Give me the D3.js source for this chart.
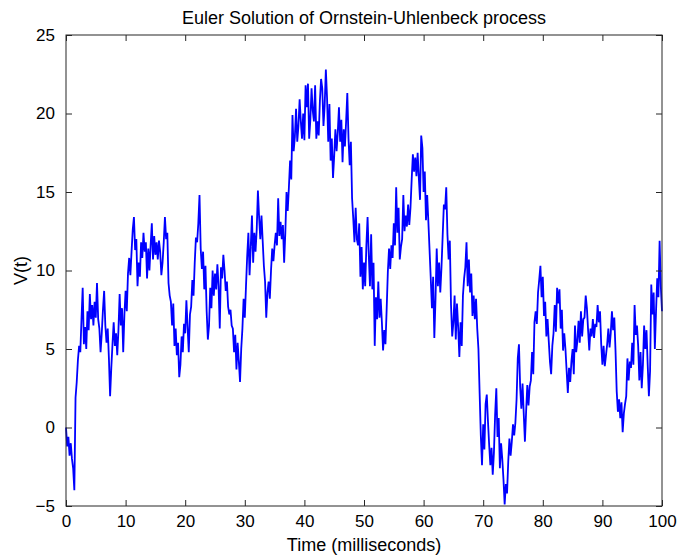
<!DOCTYPE html>
<html>
<head>
<meta charset="utf-8">
<script src="https://cdn.jsdelivr.net/npm/d3@7"></script>
<style>
  body { margin: 0; background: #fff; }
  svg text { font-family: "Liberation Sans", Arial, sans-serif; fill: #000; }
</style>
</head>
<body>
<div id="chart"></div>
<script>
// Euler solution of an Ornstein-Uhlenbeck process
// one row per millisecond, 5 samples per row (dt = 0.2 ms)
const dt = 0.2
const vRows = [
  [0.0, -1.2, -0.6, -1.8, -1.0],   // 0
  [-2.0, -2.6, -4.0, 1.9, 2.9],    // 1
  [4.3, 5.2, 4.8, 6.9, 8.9],       // 2
  [5.3, 6.4, 5.0, 7.4, 6.2],       // 3
  [8.5, 6.9, 7.8, 6.5, 8.0],       // 4
  [7.0, 9.2, 6.9, 6.3, 4.8],       // 5
  [6.0, 7.5, 8.7, 6.5, 5.4],       // 6
  [6.3, 4.4, 2.0, 3.8, 5.3],       // 7
  [6.7, 5.2, 6.0, 4.6, 6.2],       // 8
  [8.5, 6.5, 7.6, 4.8, 7.2],       // 9
  [8.7, 7.4, 9.8, 10.8, 9.7],      // 10
  [11.2, 12.6, 13.4, 11.3, 12.0],  // 11
  [9.0, 10.5, 9.6, 11.8, 10.8],    // 12
  [12.4, 11.2, 11.8, 9.5, 11.4],   // 13
  [10.0, 11.6, 13.0, 10.7, 12.2],  // 14
  [11.0, 11.8, 10.7, 11.9, 11.2],  // 15
  [9.7, 10.5, 11.8, 13.4, 12.0],   // 16
  [12.4, 9.2, 8.4, 8.0, 6.5],      // 17
  [7.9, 5.2, 6.3, 4.6, 5.4],       // 18
  [3.2, 4.0, 5.8, 4.8, 6.6],       // 19
  [6.0, 8.1, 6.4, 4.8, 7.2],       // 20
  [7.7, 9.4, 8.4, 10.5, 12.1],     // 21
  [11.8, 13.0, 14.8, 11.4, 10.1],  // 22
  [11.2, 8.8, 10.3, 7.4, 5.6],     // 23
  [6.5, 8.9, 7.6, 10.0, 8.4],      // 24
  [9.8, 8.8, 10.4, 9.0, 6.3],      // 25
  [10.2, 9.5, 11.0, 10.0, 8.7],    // 26
  [9.3, 7.7, 7.2, 7.5, 6.5],       // 27
  [6.3, 4.8, 5.9, 3.7, 5.4],       // 28
  [4.2, 2.9, 5.0, 6.3, 8.2],       // 29
  [7.0, 9.0, 10.9, 12.4, 9.7],     // 30
  [11.5, 13.5, 10.5, 12.4, 11.2],  // 31
  [12.6, 15.1, 13.4, 12.0, 13.5],  // 32
  [11.9, 10.3, 9.3, 7.0, 8.6],     // 33
  [9.3, 8.2, 10.0, 11.4, 10.6],    // 34
  [11.6, 12.4, 11.6, 14.6, 12.2],  // 35
  [13.1, 12.0, 12.9, 10.5, 12.4],  // 36
  [15.0, 13.8, 15.3, 17.0, 15.8],  // 37
  [19.9, 17.6, 18.5, 20.3, 18.2],  // 38
  [19.2, 20.9, 19.5, 18.4, 20.0],  // 39
  [18.3, 21.8, 20.4, 21.9, 18.4],  // 40
  [19.6, 21.6, 20.2, 19.5, 21.8],  // 41
  [18.4, 19.5, 18.6, 20.8, 22.2],  // 42
  [21.6, 19.2, 20.5, 22.8, 21.0],  // 43
  [18.2, 20.6, 17.0, 18.4, 15.9],  // 44
  [17.3, 19.0, 17.6, 18.8, 20.4],  // 45
  [18.2, 19.6, 16.9, 19.0, 17.9],  // 46
  [19.5, 21.3, 18.4, 16.7, 18.2],  // 47
  [14.6, 13.3, 11.8, 14.0, 12.0],  // 48
  [11.6, 13.0, 9.6, 11.5, 8.8],    // 49
  [10.5, 9.0, 11.6, 13.4, 11.0],   // 50
  [9.0, 12.3, 8.8, 10.5, 5.2],     // 51
  [8.3, 6.9, 9.3, 7.0, 8.2],       // 52
  [6.7, 4.9, 6.2, 5.3, 7.5],       // 53
  [9.9, 11.4, 10.1, 11.6, 10.8],   // 54
  [13.0, 11.6, 15.3, 12.4, 14.0],  // 55
  [10.7, 11.5, 12.0, 14.8, 12.5],  // 56
  [13.5, 12.8, 14.2, 12.9, 14.0],  // 57
  [15.8, 17.4, 16.3, 17.2, 16.0],  // 58
  [17.5, 15.9, 14.5, 18.6, 17.8],  // 59
  [15.0, 16.3, 13.2, 14.8, 13.1],  // 60
  [11.3, 9.5, 7.6, 9.6, 5.7],      // 61
  [8.2, 11.4, 9.0, 10.5, 8.6],     // 62
  [10.2, 12.2, 14.2, 13.9, 15.3],  // 63
  [12.3, 10.7, 11.9, 7.8, 5.8],    // 64
  [6.7, 8.4, 5.6, 7.9, 6.4],       // 65
  [4.5, 6.7, 5.2, 8.4, 9.5],       // 66
  [10.2, 11.8, 9.0, 10.7, 8.6],    // 67
  [9.8, 7.1, 8.4, 6.9, 8.2],       // 68
  [6.3, 5.0, 2.2, -0.5, -2.4],     // 69
  [0.2, -1.4, 1.5, 2.1, 0.4],      // 70
  [-1.1, -2.4, -1.3, -3.0, -1.6],  // 71
  [0.8, 2.5, -0.6, 0.6, -2.6],     // 72
  [-1.0, -2.0, -3.3, -4.9, -3.6],  // 73
  [-4.2, -2.2, -0.7, -1.8, -0.9],  // 74
  [0.2, -0.5, 0.3, 1.8, 4.4],      // 75
  [5.3, 2.6, 1.2, 2.8, 0.9],       // 76
  [-0.9, 1.0, 2.7, 1.4, 2.6],      // 77
  [3.0, 4.8, 3.4, 6.7, 7.4],       // 78
  [6.6, 8.6, 9.4, 10.3, 8.3],      // 79
  [9.6, 7.1, 8.0, 5.8, 6.9],       // 80
  [5.5, 4.2, 3.4, 5.2, 6.0],       // 81
  [7.8, 6.1, 8.9, 7.9, 8.8],       // 82
  [6.3, 7.5, 4.9, 6.0, 5.0],       // 83
  [3.6, 2.2, 3.8, 2.9, 4.2],       // 84
  [5.0, 3.4, 6.5, 4.8, 5.5],       // 85
  [6.8, 5.4, 7.4, 5.8, 6.9],       // 86
  [7.0, 8.4, 7.6, 6.2, 4.9],       // 87
  [6.3, 5.8, 6.9, 5.7, 6.6],       // 88
  [6.4, 7.8, 6.7, 7.4, 5.3],       // 89
  [4.0, 5.2, 3.9, 4.6, 5.3],       // 90
  [6.3, 5.1, 6.0, 7.4, 6.2],       // 91
  [7.0, 4.9, 2.3, 1.0, 1.8],       // 92
  [0.6, 1.6, -0.3, 0.9, 1.5],      // 93
  [2.0, 4.4, 3.0, 4.2, 3.8],       // 94
  [5.4, 4.0, 7.8, 5.9, 6.5],       // 95
  [5.2, 3.0, 4.8, 2.5, 4.0],       // 96
  [6.5, 5.0, 6.2, 4.0, 2.0],       // 97
  [3.6, 9.1, 7.2, 8.6, 5.0],       // 98
  [7.4, 9.5, 8.3, 11.9, 9.0],      // 99
  [7.4]                            // 100
]

const xTicks = [0, 10, 20, 30, 40, 50, 60, 70, 80, 90, 100]
const yTicks = [-5, 0, 5, 10, 15, 20, 25]
const title = 'Euler Solution of Ornstein-Uhlenbeck process'
const xLabel = 'Time (milliseconds)'
const yLabel = 'V(t)'

const data = vRows.flat().map((v, i) => ({ t: i * dt, v: v }))

const width = 678, height = 558
const margin = { top: 35, right: 16, bottom: 52, left: 66 }
const w = width - margin.left - margin.right
const h = height - margin.top - margin.bottom

const svg = d3.select('#chart').append('svg')
  .attr('width', width)
  .attr('height', height)

const g = svg.append('g')
  .attr('transform', `translate(${margin.left},${margin.top})`)

const x = d3.scaleLinear().domain([0, 100]).range([0, w])
const y = d3.scaleLinear().domain([-5, 25]).range([h, 0])

// the trace
const line = d3.line().x(d => x(d.t)).y(d => y(d.v))
g.append('path')
  .datum(data)
  .attr('fill', 'none')
  .attr('stroke', '#0000ff')
  .attr('stroke-width', 1.8)
  .attr('stroke-linejoin', 'miter')
  .attr('d', line)

// matlab style box, ticks point inward on all four sides
const tk = 6
const styleAxis = sel => {
  sel.select('.domain').remove()
  sel.selectAll('.tick line').attr('stroke', '#262626')
  sel.selectAll('.tick text').style('font-size', '17px')
}

g.append('g').attr('transform', `translate(0,${h})`)
  .call(d3.axisBottom(x).tickValues(xTicks).tickSize(-tk).tickPadding(tk + 3))
  .call(styleAxis)
g.append('g')
  .call(d3.axisTop(x).tickValues(xTicks).tickSize(-tk).tickFormat(''))
  .call(styleAxis)
g.append('g')
  .call(d3.axisLeft(y).tickValues(yTicks).tickSize(-tk).tickPadding(tk + 5))
  .call(styleAxis)
g.append('g').attr('transform', `translate(${w},0)`)
  .call(d3.axisRight(y).tickValues(yTicks).tickSize(-tk).tickFormat(''))
  .call(styleAxis)

g.append('rect')
  .attr('width', w).attr('height', h)
  .attr('fill', 'none')
  .attr('stroke', '#262626')
  .attr('stroke-width', 1)

// texts
svg.append('text')
  .attr('x', margin.left + w / 2).attr('y', 24)
  .attr('text-anchor', 'middle')
  .style('font-size', '18px')
  .text(title)

svg.append('text')
  .attr('x', margin.left + w / 2).attr('y', height - 7)
  .attr('text-anchor', 'middle')
  .style('font-size', '18px')
  .text(xLabel)

svg.append('text')
  .attr('transform', `translate(27,${margin.top + h / 2}) rotate(-90)`)
  .attr('text-anchor', 'middle')
  .style('font-size', '18px')
  .text(yLabel)
</script>
</body>
</html>
